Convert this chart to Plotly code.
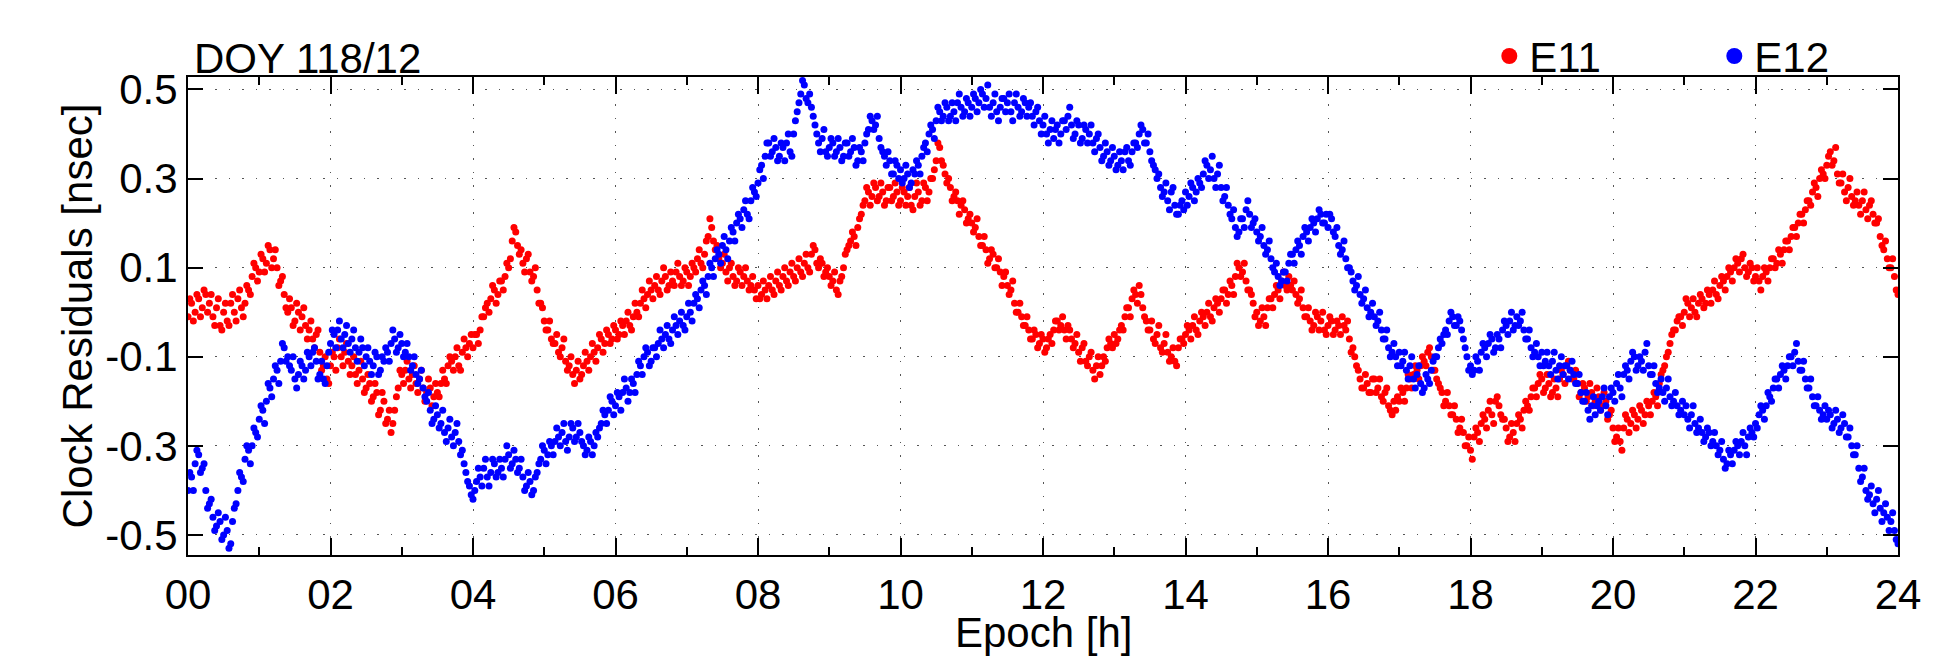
import numpy as np
import plotly.graph_objects as go

# Epochs [h]: samples every 3 min, plus a second set shifted by 1.5 min
epoch_step_h = 0.05
epochs = np.round(np.arange(0, 24 + 1e-9, epoch_step_h), 3)
epochs_mid = np.round(np.arange(0.025, 24, epoch_step_h), 3)

# E11 clock residuals [nsec], rows = hours 00..23 (20 samples each), plus 24:00
e11 = [
    -0.01, 0.02, 0.00, 0.03, 0.01, 0.04, 0.02, -0.01, 0.01, -0.03, 0.00, -0.02, 0.02, 0.00, 0.03, 0.01, 0.02, 0.05, 0.08, 0.10,
    0.09, 0.12, 0.11, 0.14, 0.12, 0.10, 0.07, 0.04, 0.00, 0.01, -0.02, 0.00, -0.01, -0.03, -0.04, -0.06, -0.05, -0.09, -0.12, -0.15,
    -0.12, -0.10, -0.08, -0.10, -0.09, -0.11, -0.12, -0.14, -0.13, -0.15, -0.17, -0.16, -0.19, -0.18, -0.22, -0.20, -0.24, -0.27, -0.22, -0.17,
    -0.14, -0.13, -0.15, -0.14, -0.16, -0.15, -0.17, -0.18, -0.17, -0.19, -0.18, -0.16, -0.15, -0.12, -0.11, -0.10, -0.12, -0.09, -0.08, -0.07,
    -0.08, -0.05, -0.04, -0.01, 0.02, 0.03, 0.05, 0.04, 0.07, 0.08, 0.10, 0.16, 0.18, 0.13, 0.11, 0.12, 0.09, 0.08, 0.05, 0.02,
    -0.02, -0.04, -0.06, -0.07, -0.09, -0.08, -0.11, -0.12, -0.14, -0.13, -0.15, -0.12, -0.11, -0.10, -0.09, -0.08, -0.06, -0.07, -0.05, -0.06,
    -0.04, -0.05, -0.03, -0.02, -0.03, -0.01, 0.00, 0.02, 0.03, 0.04, 0.05, 0.06, 0.05, 0.07, 0.08, 0.06, 0.07, 0.09, 0.08, 0.07,
    0.09, 0.08, 0.10, 0.12, 0.11, 0.13, 0.17, 0.19, 0.14, 0.12, 0.11, 0.09, 0.10, 0.08, 0.07, 0.09, 0.08, 0.07, 0.06, 0.05,
    0.06, 0.04, 0.05, 0.06, 0.05, 0.07, 0.06, 0.08, 0.07, 0.09, 0.08, 0.10, 0.09, 0.11, 0.10, 0.13, 0.14, 0.10, 0.11, 0.09,
    0.08, 0.07, 0.05, 0.07, 0.10, 0.14, 0.16, 0.17, 0.19, 0.22, 0.25, 0.27, 0.26, 0.28, 0.26, 0.27, 0.25, 0.28, 0.26, 0.27,
    0.25, 0.27, 0.26, 0.24, 0.26, 0.27, 0.25, 0.28, 0.27, 0.30, 0.34, 0.37, 0.33, 0.29, 0.28, 0.26, 0.25, 0.24, 0.23, 0.21,
    0.20, 0.19, 0.17, 0.15, 0.14, 0.12, 0.13, 0.10, 0.09, 0.08, 0.06, 0.05, 0.02, 0.00, -0.01, -0.03, -0.04, -0.06, -0.05, -0.07,
    -0.06, -0.08, -0.05, -0.04, -0.02, -0.03, -0.04, -0.03, -0.06, -0.07, -0.09, -0.08, -0.11, -0.10, -0.13, -0.12, -0.14, -0.10, -0.08, -0.07,
    -0.05, -0.06, -0.03, -0.01, 0.01, 0.03, 0.04, 0.06, 0.01, -0.02, -0.04, -0.06, -0.05, -0.08, -0.07, -0.09, -0.10, -0.11, -0.08, -0.06,
    -0.05, -0.04, -0.03, -0.04, -0.02, -0.01, 0.00, -0.01, 0.01, 0.02, 0.03, 0.05, 0.04, 0.06, 0.08, 0.10, 0.09, 0.07, 0.05, 0.02,
    0.00, -0.02, -0.01, 0.01, 0.03, 0.04, 0.05, 0.07, 0.06, 0.08, 0.05, 0.04, 0.03, 0.01, -0.01, -0.02, -0.03, -0.01, -0.02, -0.04,
    -0.03, -0.02, -0.04, -0.03, -0.01, -0.04, -0.06, -0.08, -0.12, -0.15, -0.17, -0.16, -0.18, -0.15, -0.17, -0.19, -0.18, -0.21, -0.23, -0.22,
    -0.20, -0.18, -0.17, -0.15, -0.14, -0.13, -0.12, -0.11, -0.09, -0.10, -0.13, -0.16, -0.18, -0.20, -0.21, -0.23, -0.24, -0.26, -0.27, -0.30,
    -0.31, -0.28, -0.27, -0.25, -0.24, -0.22, -0.23, -0.20, -0.21, -0.24, -0.26, -0.28, -0.27, -0.25, -0.24, -0.22, -0.21, -0.19, -0.17, -0.16,
    -0.15, -0.17, -0.16, -0.18, -0.17, -0.15, -0.14, -0.12, -0.13, -0.15, -0.16, -0.18, -0.17, -0.19, -0.18, -0.20, -0.19, -0.21, -0.20, -0.23,
    -0.26, -0.28, -0.29, -0.26, -0.24, -0.25, -0.23, -0.24, -0.22, -0.23, -0.21, -0.20, -0.19, -0.16, -0.13, -0.10, -0.07, -0.04, -0.02, -0.01,
    0.00, 0.02, 0.01, 0.00, 0.02, 0.03, 0.02, 0.04, 0.05, 0.04, 0.06, 0.07, 0.08, 0.09, 0.10, 0.11, 0.12, 0.10, 0.09, 0.10,
    0.08, 0.07, 0.08, 0.09, 0.10, 0.12, 0.11, 0.13, 0.14, 0.16, 0.17, 0.19, 0.20, 0.22, 0.23, 0.25, 0.27, 0.28, 0.30, 0.31,
    0.33, 0.36, 0.34, 0.31, 0.29, 0.27, 0.28, 0.26, 0.25, 0.24, 0.25, 0.23, 0.24, 0.22, 0.20, 0.17, 0.14, 0.12, 0.10, 0.08,
    0.04,
]

# E11 samples between the above epochs (scatter of the band)
e11_mid = [
    0.03, -0.02, 0.04, -0.01, 0.05, 0.00, 0.04, -0.03, 0.03, -0.04, 0.02, -0.03, 0.04, -0.02, 0.05, -0.01, 0.06, 0.04, 0.11, 0.07,
    0.13, 0.09, 0.15, 0.10, 0.14, 0.06, 0.08, 0.01, 0.03, -0.03, 0.02, -0.04, 0.01, -0.06, -0.02, -0.08, -0.04, -0.13, -0.10, -0.16,
    -0.09, -0.13, -0.06, -0.12, -0.07, -0.14, -0.10, -0.16, -0.11, -0.18, -0.14, -0.20, -0.16, -0.23, -0.18, -0.25, -0.22, -0.25, -0.19, -0.13,
    -0.16, -0.11, -0.17, -0.12, -0.18, -0.13, -0.20, -0.15, -0.21, -0.16, -0.19, -0.13, -0.16, -0.10, -0.13, -0.08, -0.13, -0.06, -0.10, -0.05,
    -0.05, -0.07, -0.01, 0.01, 0.00, 0.06, 0.02, 0.07, 0.05, 0.11, 0.12, 0.19, 0.15, 0.14, 0.09, 0.13, 0.07, 0.10, 0.02, 0.01,
    -0.04, -0.02, -0.07, -0.05, -0.10, -0.06, -0.13, -0.10, -0.16, -0.11, -0.14, -0.09, -0.13, -0.07, -0.11, -0.05, -0.09, -0.04, -0.07, -0.03,
    -0.06, -0.02, -0.05, 0.00, -0.04, 0.02, -0.01, 0.05, 0.01, 0.07, 0.03, 0.08, 0.04, 0.10, 0.05, 0.09, 0.06, 0.11, 0.06, 0.10,
    0.06, 0.11, 0.09, 0.14, 0.10, 0.16, 0.21, 0.16, 0.15, 0.10, 0.13, 0.07, 0.11, 0.06, 0.10, 0.06, 0.10, 0.05, 0.08, 0.03,
    0.03, 0.07, 0.03, 0.08, 0.04, 0.09, 0.05, 0.10, 0.06, 0.11, 0.07, 0.12, 0.08, 0.13, 0.09, 0.15, 0.11, 0.12, 0.08, 0.10,
    0.06, 0.09, 0.04, 0.08, 0.13, 0.15, 0.18, 0.15, 0.21, 0.24, 0.28, 0.24, 0.29, 0.25, 0.29, 0.24, 0.28, 0.25, 0.29, 0.24,
    0.28, 0.24, 0.28, 0.23, 0.29, 0.24, 0.29, 0.25, 0.30, 0.32, 0.38, 0.34, 0.31, 0.30, 0.25, 0.27, 0.22, 0.25, 0.20, 0.22,
    0.18, 0.21, 0.15, 0.17, 0.11, 0.14, 0.10, 0.12, 0.06, 0.09, 0.04, 0.07, 0.00, 0.02, -0.03, -0.01, -0.06, -0.04, -0.08, -0.05,
    -0.09, -0.06, -0.07, -0.02, -0.04, -0.01, -0.06, -0.04, -0.08, -0.05, -0.11, -0.07, -0.12, -0.09, -0.15, -0.10, -0.12, -0.11, -0.06, -0.08,
    -0.07, -0.04, -0.04, 0.01, -0.01, 0.05, 0.02, 0.04, -0.01, -0.04, -0.02, -0.07, -0.03, -0.09, -0.05, -0.11, -0.08, -0.12, -0.06, -0.07,
    -0.03, -0.06, -0.01, -0.05, 0.00, -0.03, 0.02, -0.02, 0.03, 0.00, 0.05, 0.02, 0.07, 0.04, 0.11, 0.08, 0.11, 0.05, 0.04, -0.01,
    -0.03, 0.01, -0.03, 0.03, 0.01, 0.06, 0.03, 0.09, 0.05, 0.06, 0.07, 0.02, 0.05, -0.01, 0.01, -0.04, 0.00, -0.04, 0.00, -0.05,
    -0.01, -0.05, -0.02, -0.05, -0.03, -0.02, -0.09, -0.10, -0.13, -0.17, -0.14, -0.18, -0.15, -0.18, -0.15, -0.20, -0.17, -0.22, -0.20, -0.19,
    -0.17, -0.20, -0.14, -0.17, -0.12, -0.15, -0.10, -0.12, -0.08, -0.13, -0.15, -0.17, -0.21, -0.18, -0.23, -0.21, -0.27, -0.24, -0.30, -0.28,
    -0.33, -0.26, -0.29, -0.23, -0.26, -0.20, -0.25, -0.19, -0.23, -0.24, -0.29, -0.25, -0.29, -0.23, -0.26, -0.20, -0.22, -0.17, -0.19, -0.14,
    -0.18, -0.14, -0.19, -0.15, -0.19, -0.13, -0.16, -0.11, -0.15, -0.13, -0.19, -0.16, -0.20, -0.16, -0.21, -0.17, -0.22, -0.18, -0.24, -0.22,
    -0.29, -0.26, -0.31, -0.23, -0.27, -0.22, -0.26, -0.21, -0.25, -0.20, -0.23, -0.18, -0.21, -0.14, -0.12, -0.09, -0.05, -0.04, -0.01, -0.03,
    0.03, -0.01, 0.03, -0.01, 0.04, 0.01, 0.05, 0.02, 0.07, 0.03, 0.08, 0.05, 0.10, 0.07, 0.12, 0.09, 0.13, 0.08, 0.11, 0.07,
    0.10, 0.05, 0.10, 0.07, 0.12, 0.10, 0.14, 0.11, 0.16, 0.14, 0.19, 0.17, 0.22, 0.20, 0.25, 0.24, 0.29, 0.26, 0.32, 0.30,
    0.35, 0.33, 0.37, 0.29, 0.31, 0.25, 0.30, 0.24, 0.27, 0.22, 0.27, 0.21, 0.25, 0.20, 0.21, 0.15, 0.16, 0.10, 0.12, 0.05,
]

# E12 clock residuals [nsec]
e12 = [
    -0.40, -0.37, -0.34, -0.32, -0.35, -0.40, -0.43, -0.46, -0.48, -0.47, -0.50, -0.49, -0.52, -0.44, -0.40, -0.37, -0.33, -0.31, -0.30, -0.27,
    -0.24, -0.22, -0.20, -0.17, -0.15, -0.13, -0.11, -0.08, -0.10, -0.13, -0.15, -0.14, -0.12, -0.13, -0.10, -0.09, -0.11, -0.14, -0.15, -0.12,
    -0.07, -0.05, -0.04, -0.06, -0.05, -0.07, -0.06, -0.08, -0.09, -0.08, -0.10, -0.11, -0.12, -0.10, -0.13, -0.11, -0.09, -0.07, -0.06, -0.08,
    -0.07, -0.09, -0.10, -0.12, -0.14, -0.15, -0.17, -0.20, -0.22, -0.24, -0.23, -0.25, -0.27, -0.26, -0.28, -0.27, -0.29, -0.31, -0.36, -0.39,
    -0.42, -0.38, -0.37, -0.35, -0.37, -0.36, -0.34, -0.36, -0.35, -0.33, -0.32, -0.34, -0.33, -0.35, -0.37, -0.39, -0.38, -0.40, -0.36, -0.33,
    -0.31, -0.32, -0.30, -0.29, -0.28, -0.27, -0.29, -0.28, -0.26, -0.28, -0.27, -0.30, -0.31, -0.29, -0.30, -0.28, -0.25, -0.23, -0.22, -0.20,
    -0.21, -0.19, -0.18, -0.17, -0.18, -0.16, -0.14, -0.12, -0.10, -0.09, -0.11, -0.08, -0.07, -0.06, -0.05, -0.06, -0.04, -0.03, -0.02, -0.03,
    -0.01, 0.00, 0.02, 0.03, 0.05, 0.06, 0.08, 0.10, 0.12, 0.13, 0.15, 0.14, 0.16, 0.18, 0.20, 0.21, 0.23, 0.22, 0.25, 0.27,
    0.29, 0.33, 0.35, 0.38, 0.36, 0.37, 0.35, 0.37, 0.38, 0.36, 0.40, 0.45, 0.49, 0.51, 0.47, 0.46, 0.42, 0.38, 0.39, 0.36,
    0.37, 0.38, 0.36, 0.37, 0.35, 0.38, 0.36, 0.37, 0.34, 0.36, 0.38, 0.41, 0.43, 0.42, 0.39, 0.36, 0.33, 0.34, 0.31, 0.33,
    0.32, 0.30, 0.31, 0.29, 0.31, 0.33, 0.35, 0.38, 0.40, 0.41, 0.43, 0.45, 0.44, 0.46, 0.44, 0.45, 0.47, 0.46, 0.45, 0.47,
    0.46, 0.48, 0.47, 0.49, 0.48, 0.46, 0.47, 0.45, 0.46, 0.48, 0.47, 0.45, 0.47, 0.46, 0.45, 0.47, 0.46, 0.44, 0.45, 0.43,
    0.42, 0.40, 0.41, 0.39, 0.42, 0.40, 0.43, 0.44, 0.42, 0.40, 0.42, 0.39, 0.41, 0.40, 0.38, 0.39, 0.37, 0.35, 0.36, 0.34,
    0.35, 0.33, 0.34, 0.36, 0.34, 0.36, 0.38, 0.40, 0.41, 0.38, 0.36, 0.33, 0.30, 0.28, 0.27, 0.25, 0.27, 0.24, 0.22, 0.25,
    0.27, 0.26, 0.28, 0.27, 0.29, 0.31, 0.33, 0.32, 0.30, 0.31, 0.28, 0.26, 0.24, 0.21, 0.19, 0.18, 0.21, 0.23, 0.22, 0.20,
    0.18, 0.17, 0.15, 0.14, 0.12, 0.09, 0.08, 0.07, 0.09, 0.11, 0.13, 0.14, 0.15, 0.17, 0.18, 0.19, 0.20, 0.21, 0.22, 0.20,
    0.19, 0.21, 0.17, 0.15, 0.14, 0.12, 0.10, 0.07, 0.06, 0.04, 0.03, 0.01, 0.00, -0.01, -0.02, -0.04, -0.06, -0.08, -0.09, -0.10,
    -0.09, -0.11, -0.13, -0.12, -0.15, -0.14, -0.16, -0.17, -0.15, -0.13, -0.10, -0.08, -0.07, -0.04, -0.02, -0.01, -0.03, -0.02, -0.06, -0.10,
    -0.12, -0.13, -0.11, -0.09, -0.08, -0.07, -0.06, -0.08, -0.06, -0.04, -0.03, -0.02, -0.04, -0.01, -0.02, -0.04, -0.06, -0.08, -0.09, -0.10,
    -0.09, -0.11, -0.12, -0.11, -0.13, -0.12, -0.14, -0.12, -0.13, -0.14, -0.16, -0.18, -0.20, -0.22, -0.21, -0.23, -0.20, -0.19, -0.21, -0.19,
    -0.18, -0.16, -0.17, -0.14, -0.13, -0.11, -0.10, -0.12, -0.11, -0.09, -0.12, -0.14, -0.16, -0.17, -0.18, -0.17, -0.19, -0.20, -0.21, -0.22,
    -0.23, -0.24, -0.23, -0.25, -0.26, -0.27, -0.28, -0.27, -0.29, -0.30, -0.31, -0.33, -0.34, -0.32, -0.31, -0.30, -0.29, -0.30, -0.28, -0.27,
    -0.25, -0.23, -0.22, -0.21, -0.19, -0.17, -0.15, -0.14, -0.13, -0.12, -0.10, -0.09, -0.11, -0.13, -0.15, -0.17, -0.19, -0.21, -0.22, -0.23,
    -0.24, -0.23, -0.25, -0.24, -0.26, -0.25, -0.28, -0.30, -0.32, -0.35, -0.37, -0.40, -0.41, -0.43, -0.42, -0.44, -0.45, -0.46, -0.47, -0.49,
    -0.52,
]

# E12 samples between the above epochs
e12_mid = [
    -0.36, -0.40, -0.31, -0.36, -0.34, -0.44, -0.42, -0.49, -0.45, -0.51, -0.46, -0.53, -0.47, -0.43, -0.36, -0.38, -0.30, -0.34, -0.26, -0.28,
    -0.21, -0.25, -0.16, -0.19, -0.12, -0.16, -0.07, -0.11, -0.12, -0.10, -0.17, -0.11, -0.15, -0.09, -0.12, -0.08, -0.15, -0.11, -0.16, -0.09,
    -0.04, -0.08, -0.02, -0.08, -0.03, -0.09, -0.04, -0.11, -0.06, -0.12, -0.08, -0.14, -0.09, -0.14, -0.10, -0.08, -0.11, -0.04, -0.09, -0.05,
    -0.10, -0.07, -0.13, -0.10, -0.16, -0.13, -0.19, -0.18, -0.25, -0.21, -0.26, -0.22, -0.29, -0.24, -0.30, -0.25, -0.32, -0.34, -0.38, -0.41,
    -0.40, -0.35, -0.39, -0.33, -0.39, -0.33, -0.37, -0.33, -0.37, -0.30, -0.35, -0.31, -0.36, -0.33, -0.40, -0.36, -0.41, -0.37, -0.34, -0.30,
    -0.34, -0.29, -0.32, -0.26, -0.30, -0.25, -0.31, -0.25, -0.29, -0.25, -0.29, -0.32, -0.28, -0.32, -0.27, -0.26, -0.22, -0.25, -0.19, -0.23,
    -0.18, -0.22, -0.15, -0.20, -0.15, -0.18, -0.11, -0.14, -0.08, -0.12, -0.08, -0.10, -0.04, -0.08, -0.03, -0.07, -0.01, -0.05, 0.00, -0.04,
    0.02, -0.02, 0.04, 0.01, 0.07, 0.04, 0.11, 0.08, 0.14, 0.11, 0.17, 0.12, 0.19, 0.16, 0.22, 0.19, 0.25, 0.21, 0.28, 0.26,
    0.32, 0.30, 0.38, 0.35, 0.39, 0.34, 0.38, 0.34, 0.40, 0.35, 0.43, 0.47, 0.52, 0.48, 0.49, 0.44, 0.40, 0.36, 0.41, 0.35,
    0.39, 0.35, 0.39, 0.34, 0.38, 0.35, 0.39, 0.33, 0.37, 0.34, 0.40, 0.44, 0.41, 0.44, 0.37, 0.35, 0.36, 0.31, 0.34, 0.30,
    0.29, 0.33, 0.28, 0.32, 0.34, 0.31, 0.37, 0.36, 0.42, 0.39, 0.46, 0.43, 0.47, 0.43, 0.47, 0.43, 0.49, 0.44, 0.48, 0.44,
    0.49, 0.45, 0.50, 0.46, 0.51, 0.44, 0.49, 0.43, 0.48, 0.45, 0.49, 0.43, 0.49, 0.44, 0.48, 0.44, 0.47, 0.42, 0.46, 0.40,
    0.44, 0.38, 0.43, 0.41, 0.38, 0.43, 0.41, 0.46, 0.39, 0.43, 0.38, 0.42, 0.38, 0.42, 0.36, 0.40, 0.34, 0.38, 0.33, 0.37,
    0.32, 0.36, 0.32, 0.37, 0.33, 0.38, 0.37, 0.42, 0.38, 0.40, 0.34, 0.32, 0.31, 0.26, 0.29, 0.23, 0.28, 0.22, 0.24, 0.23,
    0.24, 0.29, 0.25, 0.30, 0.28, 0.34, 0.30, 0.35, 0.28, 0.33, 0.25, 0.28, 0.22, 0.23, 0.17, 0.21, 0.19, 0.25, 0.19, 0.21,
    0.16, 0.19, 0.13, 0.16, 0.10, 0.11, 0.06, 0.09, 0.07, 0.13, 0.11, 0.16, 0.13, 0.19, 0.16, 0.21, 0.18, 0.23, 0.20, 0.22,
    0.22, 0.18, 0.19, 0.13, 0.16, 0.10, 0.09, 0.05, 0.08, 0.02, 0.05, -0.01, 0.02, -0.03, 0.00, -0.06, -0.04, -0.10, -0.07, -0.12,
    -0.12, -0.09, -0.15, -0.10, -0.17, -0.12, -0.18, -0.14, -0.16, -0.11, -0.10, -0.06, -0.05, -0.05, 0.00, -0.03, -0.01, -0.04, -0.08, -0.13,
    -0.14, -0.10, -0.13, -0.07, -0.10, -0.05, -0.09, -0.05, -0.08, -0.02, -0.05, 0.00, -0.03, -0.03, 0.00, -0.06, -0.04, -0.10, -0.07, -0.12,
    -0.12, -0.09, -0.14, -0.09, -0.15, -0.10, -0.12, -0.15, -0.11, -0.16, -0.14, -0.20, -0.18, -0.24, -0.19, -0.21, -0.22, -0.17, -0.23, -0.17,
    -0.20, -0.14, -0.19, -0.12, -0.15, -0.09, -0.13, -0.10, -0.13, -0.07, -0.14, -0.12, -0.18, -0.15, -0.20, -0.15, -0.21, -0.18, -0.23, -0.20,
    -0.21, -0.26, -0.21, -0.27, -0.24, -0.29, -0.26, -0.30, -0.27, -0.32, -0.29, -0.35, -0.31, -0.34, -0.29, -0.32, -0.27, -0.32, -0.26, -0.28,
    -0.26, -0.21, -0.24, -0.18, -0.20, -0.15, -0.17, -0.12, -0.15, -0.10, -0.12, -0.07, -0.13, -0.11, -0.17, -0.15, -0.21, -0.19, -0.24, -0.21,
    -0.22, -0.26, -0.22, -0.27, -0.23, -0.28, -0.26, -0.32, -0.30, -0.38, -0.35, -0.42, -0.39, -0.45, -0.40, -0.47, -0.43, -0.49, -0.45, -0.51,
]

x_tick_vals = list(range(0, 25, 2))
x_tick_text = [f"{v:02d}" for v in x_tick_vals]
x_minor_vals = list(range(0, 25))
y_tick_vals = [-0.5, -0.3, -0.1, 0.1, 0.3, 0.5]
y_tick_text = ["-0.5", "-0.3", "-0.1", "0.1", "0.3", "0.5"]

FONT = "Liberation Sans, Arial, Helvetica, sans-serif"
FS = 42
RED = "#ff0000"
BLUE = "#0000ff"

x_e11 = np.concatenate([epochs, epochs_mid])
y_e11 = list(e11) + list(e11_mid)
x_e12 = np.concatenate([epochs, epochs_mid])
y_e12 = list(e12) + list(e12_mid)

fig = go.Figure()
fig.add_trace(go.Scatter(x=x_e11, y=y_e11, mode="markers", name="E11", showlegend=False,
                         marker=dict(color=RED, size=7, line=dict(width=0))))
fig.add_trace(go.Scatter(x=x_e12, y=y_e12, mode="markers", name="E12", showlegend=False,
                         marker=dict(color=BLUE, size=7, line=dict(width=0))))
# legend entries (larger symbols as in the reference legend)
fig.add_trace(go.Scatter(x=[None], y=[None], mode="markers", name="E11",
                         marker=dict(color=RED, size=17)))
fig.add_trace(go.Scatter(x=[None], y=[None], mode="markers", name="E12",
                         marker=dict(color=BLUE, size=17)))

axis_common = dict(
    showline=True, linecolor="black", linewidth=2, mirror="ticks",
    ticks="inside", tickcolor="black", tickwidth=2,
    showgrid=True, gridcolor="#555555", gridwidth=1, griddash="1.5px,12px",
    zeroline=False,
    tickfont=dict(family=FONT, size=FS, color="black"),
)

fig.update_xaxes(
    **axis_common,
    range=[0, 24], tickmode="array", tickvals=x_tick_vals, ticktext=x_tick_text,
    ticklen=17, ticklabelstandoff=2,
    minor=dict(tickvals=x_minor_vals, ticks="inside", ticklen=8, tickcolor="black",
               tickwidth=2, showgrid=False),
)
fig.update_yaxes(
    **axis_common,
    range=[-0.545, 0.528], tickmode="array", tickvals=y_tick_vals, ticktext=y_tick_text,
    ticklen=15, ticklabelstandoff=0,
    title=dict(text="Clock Residuals [nsec]", font=dict(family=FONT, size=FS, color="black"), standoff=0),
)

fig.add_annotation(text="DOY 118/12", xref="paper", yref="paper", x=0, y=1,
                   xanchor="left", yanchor="bottom", xshift=4, yshift=-7, showarrow=False,
                   font=dict(family=FONT, size=FS, color="black"))
fig.add_annotation(text="Epoch [h]", xref="paper", yref="paper", x=0.5, y=0,
                   xanchor="center", yanchor="top", yshift=-52, showarrow=False,
                   font=dict(family=FONT, size=FS, color="black"))

# page body has an 8 px margin, so the figure is 8 px smaller than the window
fig.update_layout(
    width=1931, height=651,
    margin=dict(l=180, r=41, t=69, b=104, autoexpand=False),
    paper_bgcolor="white", plot_bgcolor="white",
    font=dict(family=FONT, size=FS, color="black"),
    legend=dict(orientation="h", x=0.761, y=1.0435, xanchor="left", yanchor="middle",
                bgcolor="rgba(0,0,0,0)", borderwidth=0, entrywidth=180,
                font=dict(family=FONT, size=FS, color="black")),
)

fig.write_html("out.html")
